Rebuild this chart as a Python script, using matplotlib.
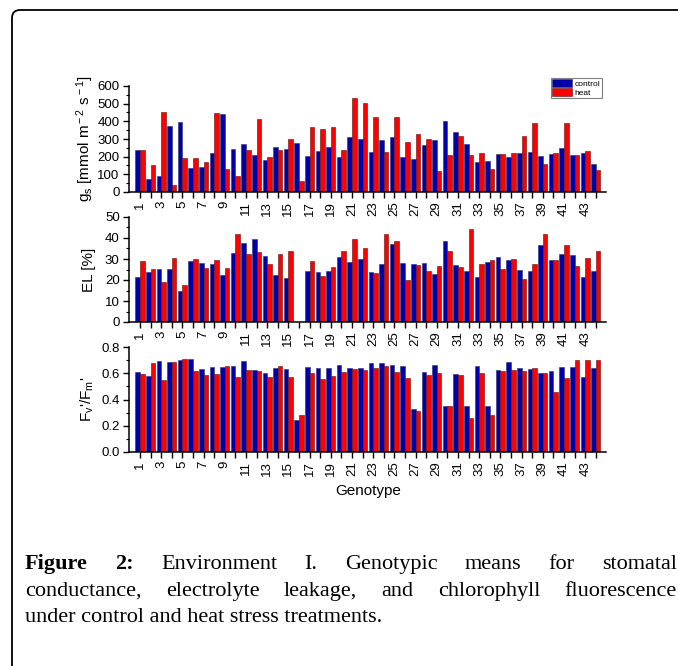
import matplotlib
matplotlib.use('Agg')
import matplotlib.pyplot as plt
import numpy as np
from matplotlib.patches import FancyBboxPatch, Patch
from matplotlib.ticker import MultipleLocator, FixedLocator

plt.rcParams['font.family'] = ['Liberation Sans', 'DejaVu Sans']
plt.rcParams['mathtext.fontset'] = 'custom'
plt.rcParams['mathtext.rm'] = 'Liberation Sans'
plt.rcParams['mathtext.it'] = 'Liberation Sans:italic'

genotypes = list(range(1, 45))
tick_labels = [str(g) if g % 2 == 1 else '' for g in genotypes]

gs_control = [240, 72, 88, 372, 398, 138, 140, 218, 440, 243, 272, 207, 182, 252, 245,
              278, 204, 230, 255, 196, 313, 300, 225, 294, 311, 200, 189, 268, 292, 402,
              340, 270, 172, 175, 213, 198, 219, 225, 201, 213, 249, 208, 220, 158]
gs_heat = [240, 155, 455, 42, 195, 192, 170, 447, 132, 90, 235, 412, 198, 240, 302,
           65, 366, 357, 368, 238, 532, 504, 425, 228, 426, 283, 326, 298, 121, 211,
           317, 209, 223, 130, 217, 223, 318, 388, 157, 221, 392, 211, 234, 125]

el_control = [21.5, 23.7, 25.2, 25.2, 14.9, 29.2, 28.3, 27.6, 22.4, 33.0, 37.6, 39.7, 31.4, 22.2, 21.0,
              np.nan, 24.4, 24.0, 24.4, 30.8, 28.6, 30.2, 23.8, 27.8, 37.0, 28.3, 27.6, 27.9, 22.7, 38.6,
              27.3, 24.1, 21.3, 28.7, 30.8, 29.4, 24.9, 24.1, 36.5, 29.7, 32.4, 31.9, 21.4, 24.2]
el_heat = [29.0, 25.2, 19.2, 30.6, 17.8, 29.8, 25.9, 29.5, 25.6, 41.7, 32.5, 33.5, 27.5, 32.4, 33.6,
           np.nan, 29.2, 21.7, 26.0, 33.8, 39.7, 35.2, 23.2, 41.7, 38.4, 20.0, 27.0, 24.1, 26.7, 33.7,
           26.2, 44.3, 27.8, 29.7, 25.2, 29.8, 20.3, 27.5, 41.7, 29.7, 36.7, 26.5, 30.3, 34.0]

fv_control = [0.607, 0.582, 0.696, 0.683, 0.698, 0.709, 0.635, 0.650, 0.650, 0.653, 0.696, 0.625,
              0.604, 0.640, 0.630, 0.244, 0.648, 0.643, 0.637, 0.663, 0.643, 0.637, 0.681, 0.681,
              0.665, 0.655, 0.328, 0.610, 0.663, 0.348, 0.594, 0.348, 0.655, 0.348, 0.625, 0.686,
              0.643, 0.630, 0.602, 0.617, 0.650, 0.650, 0.574, 0.640]
fv_heat = [0.592, 0.678, 0.546, 0.683, 0.711, 0.615, 0.589, 0.597, 0.658, 0.569, 0.622, 0.620,
           0.569, 0.658, 0.569, 0.279, 0.602, 0.556, 0.577, 0.607, 0.630, 0.622, 0.637, 0.658,
           0.607, 0.566, 0.310, 0.589, 0.604, 0.348, 0.584, 0.256, 0.602, 0.279, 0.620, 0.622,
           0.615, 0.640, 0.604, 0.455, 0.566, 0.700, 0.700, 0.700]

series_names = ['control', 'heat']
ylabels = [r'g$_{\rm s}$ [mmol m$^{\rm -2}$ s$^{\rm -1}$]', 'EL [%]', r"F$_{\rm v}$'/F$_{\rm m}$'"]
caption_lines = [
    ['Figure', '2:', 'Environment', 'I.', 'Genotypic', 'means', 'for', 'stomatal'],
    ['conductance,', 'electrolyte', 'leakage,', 'and', 'chlorophyll', 'fluorescence'],
    ['under control and heat stress treatments.'],
]

BLUE = '#0000a8'
RED = '#ff0000'

W, H = 678, 666
fig = plt.figure(figsize=(W / 100, H / 100), dpi=100)

x0_px = 129.4
x_w = 477.0
panels = [
    (gs_control, gs_heat, 192, 86, (0, 600), 100, 50, '{:.0f}'),
    (el_control, el_heat, 322, 217, (0, 50), 10, 5, '{:.0f}'),
    (fv_control, fv_heat, 452, 347, (0, 0.8), 0.2, 0.1, '{:.1f}'),
]

x = np.array(genotypes, dtype=float)
bw = 0.44
axes = []
for i, (c, h, ybot, ytop, ylim, maj, mnr, fmt) in enumerate(panels):
    ax = fig.add_axes([x0_px / W, 1 - ybot / H, x_w / W, (ybot - ytop) / H])
    axes.append(ax)
    ax.bar(x - bw / 2, c, width=bw, color=BLUE, edgecolor='#30306a', linewidth=0.4)
    ax.bar(x + bw / 2, h, width=bw, color=RED, edgecolor='#5a1010', linewidth=0.4)
    ax.set_xlim(0, 45)
    ax.set_ylim(*ylim)
    ax.yaxis.set_major_locator(MultipleLocator(maj))
    ax.yaxis.set_minor_locator(MultipleLocator(mnr))
    ax.set_yticklabels([fmt.format(v) for v in ax.get_yticks()])
    ax.set_ylim(*ylim)
    ax.xaxis.set_major_locator(FixedLocator(genotypes))
    ax.set_xticklabels(tick_labels, rotation=90, fontsize=9.5)
    ax.tick_params(axis='y', which='major', direction='out', length=4.5, width=1.0, labelsize=9.5, pad=2.5)
    ax.tick_params(axis='y', which='minor', direction='out', length=2.5, width=0.8)
    ax.tick_params(axis='x', which='major', direction='out', length=4.5, width=1.0, pad=2)
    for s in ['top', 'right']:
        ax.spines[s].set_visible(False)
    for s in ['left', 'bottom']:
        ax.spines[s].set_linewidth(1.1)
    ax.set_ylabel(ylabels[i], fontsize=11)
    ax.yaxis.set_label_coords((96 - x0_px) / x_w, 0.5)
    if i == 0:
        handles = [Patch(facecolor=BLUE, edgecolor='#30306a', linewidth=0.4),
                   Patch(facecolor=RED, edgecolor='#5a1010', linewidth=0.4)]
        leg = fig.legend(handles, series_names, loc='upper left',
                         bbox_to_anchor=(551 / W, 1 - 78 / H), bbox_transform=fig.transFigure,
                         fontsize=6, handlelength=2.4, handleheight=1.0, borderpad=0.15,
                         labelspacing=0.05, handletextpad=0.3, borderaxespad=0,
                         fancybox=False, framealpha=1)
        leg.get_frame().set_edgecolor('#808080')
        leg.get_frame().set_linewidth(0.8)

axes[2].set_xlabel('Genotype', fontsize=11, labelpad=6)

# outer frame
frame = FancyBboxPatch((12 / W, -0.05), 1.2, 1 - 10 / H + 0.05,
                       boxstyle='round,pad=0,rounding_size=0.012',
                       transform=fig.transFigure, fill=False, edgecolor='black',
                       linewidth=1.3, clip_on=False)
fig.patches.append(frame)

# caption (justified)
fig.canvas.draw()
renderer = fig.canvas.get_renderer()
cap_size = 16
cap_left, cap_right = 25, 677
baseline_y = [569, 596, 622]
for li, words in enumerate(caption_lines):
    texts = []
    for wi, wd in enumerate(words):
        bold = (li == 0 and wi < 2)
        t = fig.text(cap_left / W, 1 - baseline_y[li] / H, wd, fontsize=cap_size,
                     family=['Liberation Serif', 'DejaVu Serif'],
                     fontweight='bold' if bold else 'normal', va='baseline', ha='left')
        texts.append(t)
    if len(words) > 1:
        widths = [t.get_window_extent(renderer).width for t in texts]
        gap = (cap_right - cap_left - sum(widths)) / (len(words) - 1)
        xx = cap_left
        for t, wdt in zip(texts, widths):
            t.set_x(xx / W)
            xx += wdt + gap

fig.savefig('out.png', dpi=100)
